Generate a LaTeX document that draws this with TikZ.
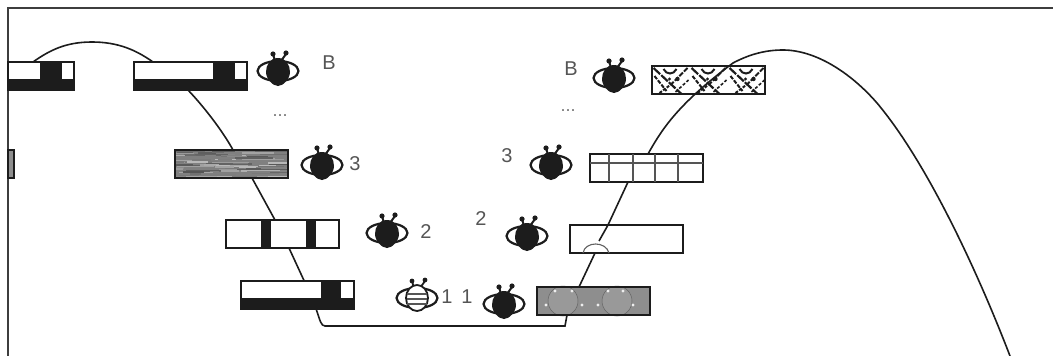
\documentclass[tikz,border=0pt]{standalone}
\usepackage{fontspec}
\setmainfont{Liberation Sans}
\definecolor{beeInk}{HTML}{1C1C1C}
\definecolor{beeLabel}{HTML}{555555}
\definecolor{barGray}{HTML}{8E8E8E}
\usetikzlibrary{positioning, calc}

\begin{document}
\begin{tikzpicture}[x=1pt, y=-1pt,
  bar/.style={rectangle, draw=beeInk, line width=2pt, fill=white, minimum width=113pt,
    minimum height=28pt, inner sep=0pt, outer sep=0pt},
  stub/.style={bar, minimum width=6pt, fill=barGray},
  curve/.style={draw=beeInk, line width=1.6pt},
  label/.style={font=\fontsize{20}{20}\selectfont, text=beeLabel, inner sep=0pt},
  dots/.style={font=\fontsize{18}{18}\selectfont, text=beeLabel!80, inner sep=0pt},
  bug/.pic={
    \draw[beeInk, line width=2pt] (-3,-9) -- (-5,-16) (3,-9) -- (8,-16);
    \fill[beeInk] (-5,-16) circle (2.6pt) (8,-17) circle (2.6pt);
    \draw[beeInk, line width=2.2pt, fill=white] (0,1) ellipse [x radius=20.5pt, y radius=10pt];
    \fill[beeInk] (0,-12) .. controls (8,-12) and (12,-5) .. (12,2)
      .. controls (12,9) and (5,16) .. (0,16) .. controls (-5,16) and (-12,9) .. (-12,2)
      .. controls (-12,-5) and (-8,-12) .. (0,-12) -- cycle;
  },
  stripedbug/.pic={
    \draw[beeInk, line width=1.8pt] (-3,-9) -- (-5,-16) (3,-9) -- (8,-16);
    \fill[beeInk] (-5,-16) circle (2.4pt) (8,-17) circle (2.4pt);
    \draw[beeInk, line width=2.2pt, fill=white] (0,1) ellipse [x radius=20.5pt, y radius=10pt];
    \draw[beeInk, line width=1.8pt, fill=white] (0,1) ellipse [x radius=11pt, y radius=13pt];
    \foreach \ypos in {-3,2,7}
      \draw[beeLabel, line width=2pt] (-10,\ypos) -- (10,\ypos);
  }]
\useasboundingbox (0,0) rectangle (1053,356);
\fill[white] (0,0) rectangle (1053,356);

% frame
\coordinate (frameTL) at (8,8);
\draw[beeInk!85, line width=2pt] (8,356) -- (frameTL) -- (1053,8);

% the bars go on top of most of the curve
\coordinate (peakLeft) at (33,62);
\coordinate (peakRight) at (153,62);
\coordinate (tailEnd) at (1010,356);
\draw[curve] (peakLeft) .. controls (50,50) and (66,42) .. (92,42)
  .. controls (118,42) and (136,50) .. (peakRight);

\node[bar] (barB) at (190.5,76) {};
\node[bar] (bar3) at (231.5,164) {};
\node[bar] (bar2) at (282.5,234) {};
\node[bar] (bar1) at (297.5,294.5) {};
\node[bar] (barB') at (708,80) {};
\node[bar] (bar3') at (646.5,168) {};
\node[bar] (bar2') at (626.5,239) {};
\node[bar, fill=barGray] (bar1') at (593.5,301) {};
\node[bar, minimum width=66pt] (barCut) at (41,76) {};
\node[stub] (barStub) at (11,164) {};

% bars on the left
\fill[beeInk] (barB.south west) rectangle ($(barB.east)+(0,3)$);
\fill[beeInk] ($(barB.north west)+(79,0)$) rectangle ($(barB.north west)+(101,20)$);
\fill[beeInk] (barCut.south west) rectangle ($(barCut.east)+(0,3)$);
\fill[beeInk] ($(barCut.north west)+(32,0)$) rectangle ($(barCut.north west)+(54,20)$);
\fill[beeInk] (bar1.south west) rectangle ($(bar1.east)+(0,3)$);
\fill[beeInk] ($(bar1.north west)+(80,0)$) rectangle ($(bar1.north west)+(100,20)$);
\foreach \xpos in {35,80}
  \fill[beeInk] ($(bar2.north west)+(\xpos,0)$) rectangle ($(bar2.south west)+(\xpos+10,0)$);

% wood grain
\begin{scope}
  \clip (bar3.north west) rectangle (bar3.south east);
  \fill[black!50] (bar3.north west) rectangle (bar3.south east);
  \pgfmathsetseed{41}
  \foreach \i in {1,...,110} {
    \pgfmathsetmacro{\xpos}{rnd*113-10}
    \pgfmathsetmacro{\ypos}{rnd*28}
    \pgfmathsetmacro{\len}{10+rnd*30}
    \pgfmathsetmacro{\shade}{25+rnd*42}
    \draw[black!\shade, line width=1.3pt] ($(bar3.north west)+(\xpos,\ypos)$) -- ++(\len,0);
  }
\end{scope}
\draw[beeInk, line width=2pt] (bar3.north west) rectangle (bar3.south east);

% bars on the right
\begin{scope}
  \clip (barB'.north west) rectangle (barB'.south east);
  \foreach \xpos in {0,38,76} {
    \draw[beeInk, line width=2.2pt, dash pattern=on 9pt off 1.5pt]
      ($(barB'.north west)+(\xpos+2,2)$) -- ($(barB'.north west)+(\xpos+30,28)$);
    \draw[beeInk, line width=2pt, dash pattern=on 5pt off 1.5pt]
      ($(barB'.north west)+(\xpos+36,2)$) -- ($(barB'.north west)+(\xpos+20,18)$);
    \draw[beeInk, line width=2pt] ($(barB'.north west)+(\xpos+12,3)$) .. controls
      ($(barB'.north west)+(\xpos+15,9)$) and ($(barB'.north west)+(\xpos+22,9)$) .. ($(barB'.north west)+(\xpos+25,3)$);
    \draw[beeInk, line width=2pt, dash pattern=on 4pt off 1.5pt]
      ($(barB'.north west)+(\xpos+3,10)$) -- ($(barB'.north west)+(\xpos+15,25)$);
    \draw[beeInk, line width=2pt, dash pattern=on 3pt off 1.5pt]
      ($(barB'.north west)+(\xpos+8,27)$) -- ($(barB'.north west)+(\xpos+20,18)$);
    \draw[beeInk, line width=1.6pt, dash pattern=on 3pt off 2pt]
      ($(barB'.north west)+(\xpos+24,26)$) -- ($(barB'.north west)+(\xpos+37,14)$);
    \fill[beeInk] ($(barB'.north west)+(\xpos+26,13)$) circle (2.2pt);
    \fill[beeInk] ($(barB'.north west)+(\xpos+18,13)$) circle (1.6pt);
  }
\end{scope}
\draw[beeInk, line width=2pt] (barB'.north west) rectangle (barB'.south east);

\foreach \xpos in {19,43,65,88}
  \draw[beeInk!75, line width=1.1pt] ($(bar3'.north west)+(\xpos,0)$) -- ($(bar3'.south west)+(\xpos,0)$);
\draw[beeInk!75, line width=1.1pt] ($(bar3'.west)+(0,-5)$) -- ($(bar3'.east)+(0,-5)$);

\draw[beeInk!70, line width=1.1pt] ($(bar2'.south west)+(13,0)$) .. controls ($(bar2'.south west)+(15,-12)$)
  and ($(bar2'.south west)+(36,-12)$) .. ($(bar2'.south west)+(39,0)$);

\foreach \xpos in {26,80}
  \filldraw[fill=barGray!90!white, draw=barGray!70!black, line width=.5pt]
    ($(bar1'.west)+(\xpos,0)$) circle (15pt);
\foreach \xpos/\ypos in {9/18,45/18,61/18,96/18,18/4,35/4,71/4,86/4}
  \fill[white!85!barGray] ($(bar1'.north west)+(\xpos,\ypos)$) circle (1.7pt);
\draw[beeInk, line width=2pt] (bar1'.north west) rectangle (bar1'.south east);

% curve, between the bars
\draw[curve] ($(barB.south west)+(54,0)$) .. controls ($(barB.south west)+(73,20)$)
  and ($(bar3.north west)+(50,-15)$) .. ($(bar3.north west)+(58,0)$);
\draw[curve] ($(bar3.south west)+(77,0)$) -- ($(bar2.north west)+(49,0)$);
\draw[curve] ($(bar2.south west)+(63,0)$) -- ($(bar1.north west)+(63,0)$);
\draw[curve] ($(bar1.south west)+(75,0)$) .. controls ($(bar1.south west)+(79,12)$)
  and ($(bar1.south west)+(80,17.5)$) .. ($(bar1.south west)+(84,17.5)$)
  -- ($(bar1'.south west)+(28,11)$) -- ($(bar1'.south west)+(30,0)$);
\draw[curve] ($(bar1'.north west)+(42,0)$) -- ($(bar2'.south west)+(25,0)$);
\draw[curve] ($(bar2'.south west)+(29,-12)$) -- ($(bar2'.north west)+(38,0)$)
  -- ($(bar3'.south west)+(38,0)$);
\draw[curve] ($(bar3'.north west)+(58,0)$) .. controls ($(bar3'.north west)+(72,-25)$)
  and ($(bar3'.north west)+(88,-50)$) .. (733,63)
  .. controls (750,54) and (766,50) .. (783,50)
  .. controls (815,50) and (850,72) .. (877,103)
  .. controls (925,160) and (975,265) .. (tailEnd);

% bugs and their numbers
\pic at (278,70) {bug};
\pic at (322,164) {bug};
\pic at (387,232) {bug};
\pic at (417,297) {stripedbug};
\pic at (504,303) {bug};
\pic at (527,235) {bug};
\pic at (551,164) {bug};
\pic at (614,77) {bug};

\node[label] (labelB) at (329,63) {B};
\node[label] (label3) at (355,164) {3};
\node[label] (label2) at (426,232) {2};
\node[label] (label1) at (447,297) {1};
\node[label] (label1') at (467,297) {1};
\node[label] (label2') at (481,219) {2};
\node[label] (label3') at (507,156) {3};
\node[label] (labelB') at (571,69) {B};
\node[dots] (dotsLeft) at (280,116) {...};
\node[dots] (dotsRight) at (568,111) {...};
\end{tikzpicture}
\end{document}
